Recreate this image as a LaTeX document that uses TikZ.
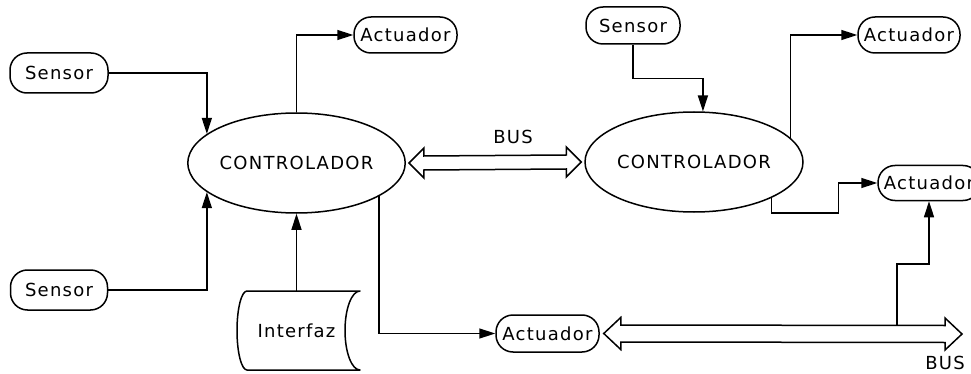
\documentclass[tikz,border=0pt]{standalone}
\usepackage{fontspec}
\setmainfont{DejaVu Sans}[LetterSpace=7]
\usetikzlibrary{shapes.geometric,arrows.meta,calc}
\begin{document}
\begin{tikzpicture}[x=1pt,y=-1pt,
  every node/.style={font=\fontsize{18}{20}\selectfont},
  pill/.style={draw,line width=1.5pt,rounded corners=17pt,inner sep=0pt,minimum height=37pt},
  ctrl/.style={draw,ellipse,line width=1.5pt,inner sep=0pt,minimum width=217pt,minimum height=100pt},
  arr/.style={line width=1.5pt,-{Triangle[length=16pt,width=10pt]}},
  plain/.style={line width=1.5pt},
  bus/.style={draw,line width=1.5pt,fill=white,line join=miter}]
\useasboundingbox (0,0) rectangle (971,374);

% nodes
\node[pill,minimum width=98pt,minimum height=40pt] (s1) at (59,73) {Sensor};
\node[pill,minimum width=97pt,minimum height=40pt] (s2) at (59,290) {Sensor};
\node[pill,minimum width=103pt,minimum height=36pt] (a1) at (405.5,35) {Actuador};
\node[pill,minimum width=94pt,minimum height=37pt] (s3) at (633,25.5) {Sensor};
\node[pill,minimum width=102pt,minimum height=36pt] (a2) at (909,35) {Actuador};
\node[pill,minimum width=102pt,minimum height=35pt] (a3) at (929,183) {Actuador};
\node[pill,minimum width=103pt,minimum height=37pt] (a4) at (547.5,333.5) {Actuador};
\node[ctrl] (c1) at (296.5,163) {CONTROLADOR};
\node[ctrl,minimum width=218pt] (c2) at (694,162) {CONTROLADOR};
\node[inner sep=0pt,minimum width=123pt,minimum height=79pt] (ifz) at (296.5,330.5) {Interfaz};
\node (bus1) at (513,137) {BUS};
\node (bus2) at (945,363) {BUS};

% interfaz (stored data) shape
\draw[plain,line join=round] (247,291) -- (360,291)
  arc[start angle=90,end angle=270,x radius=15pt,y radius=39.5pt]
  -- (247,370)
  arc[start angle=270,end angle=90,x radius=10pt,y radius=39.5pt] -- cycle;

% bus between controllers
\draw[bus] ($(c1.east)+(3,0)$) -- ++(15,-15) -- ++(0,8) -- ($(c2.west)+(-18,-7)$)
  -- ++(0,-8) -- ++(15,15) -- ++(-15,15) -- ++(0,-8) -- ($(c1.east)+(18,7)$)
  -- ++(0,8) -- cycle;

% bottom bus
\coordinate (busend) at (962,334);
\draw[bus] ($(a4.east)+(4,0)$) -- ++(17,-16) -- ++(0,7.5) -- ($(busend)+(-17,-8.5)$)
  -- ++(0,-7.5) -- (busend) -- ++(-17,16) -- ++(0,-7.5) -- ($(a4.east)+(21,8.5)$)
  -- ++(0,7.5) -- cycle;
\coordinate (bustap) at (897,325.5);

% connectors
\draw[arr] (s1.east) -| (c1.162);
\draw[arr] (s2.east) -| (c1.198);
\draw[arr] (c1.north) |- (a1.west);
\draw[arr] (ifz.north) -- (c1.south);
\draw[arr] (c1.338) |- (a4.west);
\draw[arr] (s3.south) -- ++(0,34) -| (c2.80);
\draw[arr] (c2.14) |- (a2.west);
\draw[arr] (c2.335) |- ($(a3.west)+(-39,30)$) |- (a3.west);
\draw[arr] (bustap) -- ++(0,-61.5) -| (a3.south);
\end{tikzpicture}
\end{document}
